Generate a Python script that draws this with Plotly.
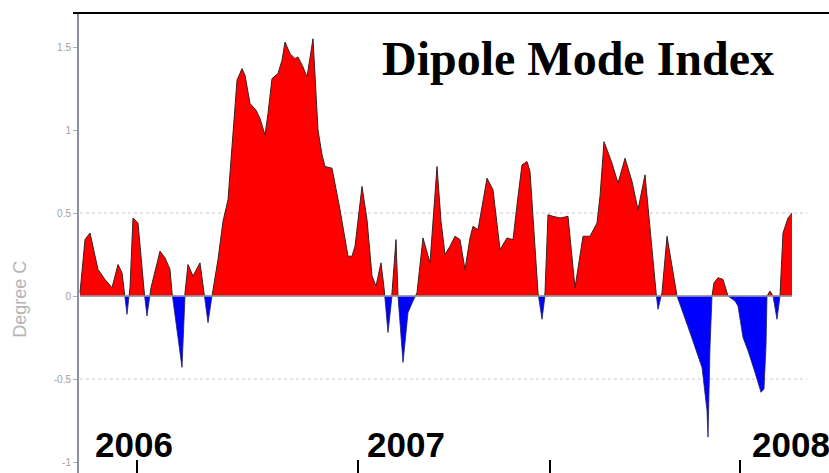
import plotly.graph_objects as go

# Weekly Dipole Mode Index (deg C), weeks counted from the start of 2006
weeks = [
    0.0, 1.0, 2.0, 2.6, 3.6, 5.0, 6.4, 7.6, 8.4, 9.4, 10.0, 10.6, 11.6, 12.6, 13.4,
    14.2, 16.0, 17.0, 18.0, 18.4, 20.4, 21.0, 21.6, 22.6, 24.0, 24.8, 25.6, 26.4,
    27.6, 28.6, 29.6, 30.6, 31.4, 32.4, 33.0, 34.0, 35.2, 36.0, 37.0, 37.6, 38.4,
    39.6, 40.4, 41.0, 42.0, 43.0, 43.6, 44.6, 45.4, 46.6, 47.6, 48.4, 49.0, 50.4,
    52.0, 53.6, 54.4, 55.0, 56.4, 57.4, 58.4, 59.2, 60.2, 60.8, 61.6, 62.4, 63.2,
    63.6, 64.6, 65.6, 66.6, 67.4, 68.6, 70.0, 71.4, 72.2, 73.0, 74.0, 75.0, 76.0,
    77.0, 78.0, 78.6, 79.6, 81.4, 82.6, 84.0, 85.4, 86.6, 87.6, 88.4, 89.4, 90.0,
    91.6, 92.4, 93.0, 93.6, 94.6, 96.0, 97.6, 99.0, 100.6, 102.0, 103.4, 104.0,
    104.8, 106.4, 107.6, 109.0, 110.4, 111.6, 113.0, 113.6, 115.2, 115.6, 116.4,
    117.4, 119.4, 122.0, 124.4, 125.4, 125.6, 126.0, 126.4, 126.8, 127.6, 128.6,
    129.6, 131.0, 131.6, 132.6, 133.6, 135.0, 136.2, 136.8, 137.2, 137.4, 138.0,
    138.6, 139.4, 140.0, 140.6, 141.6, 142.4,
]
dmi = [
    0.02, 0.34, 0.38, 0.30, 0.16, 0.10, 0.05, 0.19, 0.14, -0.11, 0.05, 0.47, 0.44, 0.08, -0.12,
    0.05, 0.27, 0.23, 0.16, 0.02, -0.43, 0.02, 0.19, 0.12, 0.20, 0.02, -0.16, 0.00,
    0.22, 0.45, 0.58, 1.00, 1.30, 1.37, 1.33, 1.16, 1.12, 1.07, 0.97, 1.10, 1.31,
    1.34, 1.42, 1.53, 1.46, 1.43, 1.44, 1.38, 1.32, 1.55, 1.00, 0.85, 0.78, 0.77,
    0.52, 0.24, 0.24, 0.30, 0.66, 0.46, 0.12, 0.06, 0.20, 0.05, -0.22, 0.02, 0.34,
    0.00, -0.40, -0.10, -0.03, 0.02, 0.35, 0.20, 0.78, 0.45, 0.25, 0.30, 0.36, 0.34,
    0.16, 0.35, 0.42, 0.40, 0.71, 0.64, 0.28, 0.35, 0.34, 0.60, 0.79, 0.81, 0.75,
    0.02, -0.14, 0.02, 0.49, 0.48, 0.47, 0.48, 0.05, 0.36, 0.36, 0.44, 0.60,
    0.93, 0.80, 0.68, 0.83, 0.69, 0.52, 0.73, 0.54, 0.02, -0.08, 0.02,
    0.36, 0.00, -0.22, -0.43, -0.69, -0.85, -0.31, 0.00, 0.08, 0.11, 0.10,
    0.00, -0.03, -0.06, -0.25, -0.33, -0.46, -0.58, -0.56, -0.30, 0.00, 0.03,
    0.00, -0.14, 0.00, 0.38, 0.47, 0.50,
]

y_ticks = [1.5, 1, 0.5, 0, -0.5, -1]
y_tick_text = ["1.5", "1", "0.5", "0", "-0.5", "-1"]
x_ticks = [11.4, 55.6, 94.0, 132.0]
year_labels = ["2006", "2007", "2008"]
year_label_pos = [0.019, 0.381, 0.895]


def split_at_zero(xs, ys):
    """Insert zero crossings so positive and negative parts fill cleanly."""
    px, py = [xs[0]], [ys[0]]
    for i in range(1, len(xs)):
        x0, y0, x1, y1 = xs[i - 1], ys[i - 1], xs[i], ys[i]
        if y0 * y1 < 0:
            xc = x0 + (x1 - x0) * (0 - y0) / (y1 - y0)
            px.append(xc)
            py.append(0.0)
        px.append(x1)
        py.append(y1)
    pos = [max(v, 0.0) for v in py]
    neg = [min(v, 0.0) for v in py]
    return px, pos, neg


xs, pos, neg = split_at_zero(weeks, dmi)

fig = go.Figure()
fig.add_trace(go.Scatter(
    x=xs, y=pos, mode="lines", fill="tozeroy", fillcolor="#ff0000",
    line=dict(color="#3c2020", width=1), hoverinfo="skip", showlegend=False,
))
fig.add_trace(go.Scatter(
    x=xs, y=neg, mode="lines", fill="tozeroy", fillcolor="#0000ff",
    line=dict(color="#20206a", width=0.8), hoverinfo="skip", showlegend=False,
))
# zero reference line across the data span
fig.add_trace(go.Scatter(
    x=[weeks[0], weeks[-1]], y=[0, 0], mode="lines",
    line=dict(color="#a0a0a0", width=1.5), hoverinfo="skip", showlegend=False,
))

# faint dotted guides at +/-0.5
for level in (0.5, -0.5):
    fig.add_shape(type="line", xref="x", yref="y", x0=weeks[0], x1=weeks[-1] + 3,
                  y0=level, y1=level, layer="below",
                  line=dict(color="#c8c8d0", width=1, dash="dot"))

# top frame line
fig.add_shape(type="line", xref="paper", yref="paper", x0=-0.008, x1=1, y0=1, y1=1,
              line=dict(color="black", width=2))

fig.add_annotation(text="<b>Dipole Mode Index</b>", xref="paper", yref="paper",
                   x=0.665, y=0.902, xanchor="center", yanchor="middle", showarrow=False,
                   font=dict(family="Liberation Serif, Times New Roman, serif",
                             size=48, color="black"))

for label, xp in zip(year_labels, year_label_pos):
    fig.add_annotation(text="<b>%s</b>" % label, xref="paper", yref="paper",
                       x=xp, y=0.062, xanchor="left", yanchor="middle", showarrow=False,
                       font=dict(family="Liberation Sans, Arial, sans-serif",
                                 size=35, color="black"))

# vertical axis caption, centred on the zero line
fig.add_annotation(text="Degree C", xref="paper", yref="paper",
                   x=-0.079, y=0.378, xanchor="center", yanchor="middle",
                   textangle=-90, showarrow=False,
                   font=dict(family="Liberation Sans, Arial", size=18, color="#b4b4b4"))

fig.update_layout(
    width=829, height=473,
    margin=dict(l=79, r=0, t=13, b=0),
    paper_bgcolor="white", plot_bgcolor="white",
    xaxis=dict(range=[-0.2, 149.8], showgrid=False, zeroline=False, showline=False,
               tickvals=x_ticks, showticklabels=False, ticks="inside", ticklen=13,
               tickcolor="black", tickwidth=1.5),
    yaxis=dict(range=[-1.066, 1.705], showgrid=False, zeroline=False,
               showline=True, linecolor="#8a90a8", linewidth=2,
               tickvals=y_ticks, ticktext=y_tick_text, ticks="outside", ticklen=4,
               tickcolor="#b0b0b8", tickfont=dict(family="Liberation Sans, Arial", size=10,
                                                  color="#a0a0a0")),
)

fig.write_html("out.html")
